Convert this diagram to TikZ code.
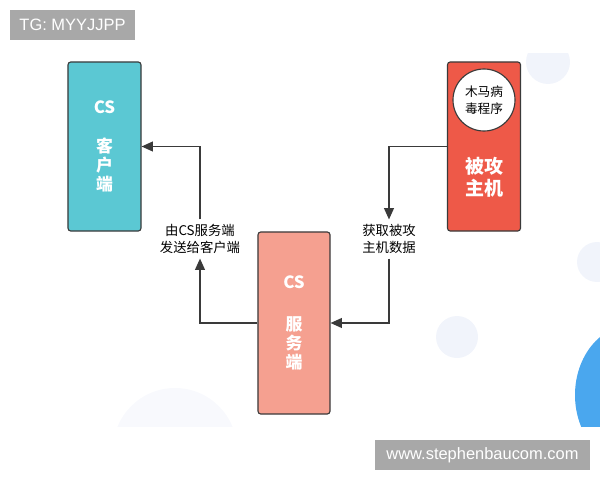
\documentclass[tikz,border=0pt]{standalone}
\usepackage{fontspec}
\usepackage{tikz}
\usetikzlibrary{arrows.meta}
\setmainfont{Liberation Sans}
\newfontfamily\cjk{Noto Sans CJK SC}
\definecolor{cli}{HTML}{5BC8D3}
\definecolor{vic}{HTML}{EE5948}
\definecolor{srv}{HTML}{F5A090}
\definecolor{ink}{HTML}{3A3A3A}
\definecolor{tag}{HTML}{A8A8A8}
\definecolor{pale}{HTML}{F1F4FB}
\definecolor{blob}{HTML}{4AA7EE}

\tikzset{
  box/.style={draw=ink, line width=0.8pt, rounded corners=2pt, minimum width=1.825cm,
    text=white, font=\cjk\bfseries\fontsize{12}{13.5}\selectfont, align=center},
  link/.style={ink, line width=0.9pt, -{Triangle[length=8pt,width=7pt]}},
  note/.style={font=\cjk\fontsize{9.5}{12}\selectfont, align=center, text=black},
  tagbox/.style={fill=tag, text=white, font=\fontsize{11.7}{13}\selectfont, inner sep=0pt}
}

\begin{document}
\begin{tikzpicture}[x=0.025cm, y=-0.025cm]
\useasboundingbox (0,0) rectangle (600,480);
% background blobs
\begin{scope}
\clip (0,53) rectangle (600,426);
\fill[pale] (548,62) circle (22);
\fill[pale] (457,337) circle (21);
\fill[pale] (597,262) circle (20);
\fill[pale!50!white] (175,450) circle (62);
\fill[blob] (632,395) ellipse (57 and 70);
\end{scope}

\node[box, fill=cli, minimum height=4.225cm] (client) at (104.5,146.5) {CS\\[0.5cm]客\\户\\端};
\node[box, fill=vic, minimum height=4.225cm] (victim) at (484,146.5) {};
\node[draw=ink, line width=0.8pt, fill=white, circle, minimum size=1.55cm, inner sep=0pt,
  font=\cjk\fontsize{9}{12}\selectfont, align=center] (trojan) at (484,100) {木马病\\毒程序};
\node[text=white, font=\cjk\bfseries\fontsize{13.5}{15.5}\selectfont, align=center] (host) at (484,177) {被攻\\主机};
\node[box, fill=srv, minimum height=4.55cm, minimum width=1.8cm] (server) at (294,323) {CS\\[0.57cm]服\\务\\端};

\node[note] (fetch) at (389,239) {获取被攻\\主机数据};
\node[note] (relay) at (200,239) {由CS服务端\\发送给客户端};

\draw[link] (victim.west) -| (fetch.north);
\draw[link] (fetch.south) |- (server.east);
\draw[link] (server.west) -| (relay.south);
\draw[link] (relay.north) |- (client.east);

\node[tagbox, minimum width=3.125cm, minimum height=0.75cm] (tg) at (72.5,25) {TG: MYYJJPP};
\node[tagbox, minimum width=5.375cm, minimum height=0.75cm] (site) at (482.5,455) {www.stephenbaucom.com};
\end{tikzpicture}
\end{document}
